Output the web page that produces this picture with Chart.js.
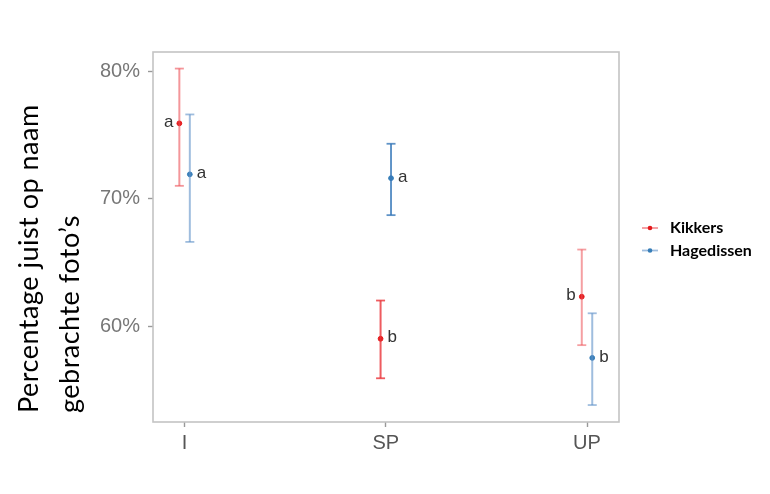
<!DOCTYPE html>
<html>
<head>
<meta charset="utf-8">
<script src="https://cdn.jsdelivr.net/npm/chart.js@4.4.1/dist/chart.umd.min.js"></script>
<style>
    html, body { margin: 0; padding: 0; background: #fff; }
    #wrap { width: 770px; height: 494px; }
</style>
</head>
<body>
<div id="wrap"><canvas id="current-chart"></canvas></div>
<script>
// data (percent)
const categories = ['I', 'SP', 'UP'];
const yTicks = [60, 70, 80];

const kikkersMean = [75.9, 59.0, 62.3];
const kikkersLow = [71.0, 55.9, 58.5];
const kikkersHigh = [80.2, 62.0, 66.0];
const kikkersLetters = ['a', 'b', 'b'];

const hagedissenMean = [71.9, 71.6, 57.5];
const hagedissenLow = [66.6, 68.7, 53.8];
const hagedissenHigh = [76.6, 74.3, 61.0];
const hagedissenLetters = ['a', 'a', 'b'];

const yTitle = ['Percentage juist op naam', 'gebrachte foto\u2019s'];

const red = '#e41a1c';
const blue = '#377eb8';
const redBar = ['rgba(236,80,86,0.6)', 'rgba(234,50,55,0.8)', 'rgba(236,80,86,0.55)'];
const blueBar = ['rgba(95,145,200,0.6)', 'rgba(55,120,185,0.8)', 'rgba(95,145,200,0.6)'];
const dodge = 0.026;

function errorBarSets(low, high, offset, colors) {
    return categories.map((c, i) => ({
        type: 'line',
        data: [{ x: i + 1 + offset, y: low[i] }, { x: i + 1 + offset, y: high[i] }],
        borderColor: colors[i],
        borderWidth: 2,
        pointStyle: 'line',
        pointRadius: 4.5,
        pointBorderColor: colors[i],
        pointBorderWidth: 1.8,
        pointHoverRadius: 0
    }));
}

const pointSets = [
    {
        label: 'Kikkers',
        type: 'scatter',
        data: kikkersMean.map((v, i) => ({ x: i + 1 - dodge, y: v })),
        backgroundColor: red,
        borderColor: red,
        pointRadius: 2.4,
        letters: kikkersLetters,
        letterSide: ['left', 'right', 'left']
    },
    {
        label: 'Hagedissen',
        type: 'scatter',
        data: hagedissenMean.map((v, i) => ({ x: i + 1 + dodge, y: v })),
        backgroundColor: blue,
        borderColor: blue,
        pointRadius: 2.4,
        letters: hagedissenLetters,
        letterSide: ['right', 'right', 'right']
    }
];

const decorations = {
    id: 'decorations',
    afterDatasetsDraw(chart) {
        const ctx = chart.ctx;
        const area = chart.chartArea;
        ctx.save();

        // panel border
        ctx.strokeStyle = '#c4c4c4';
        ctx.lineWidth = 1.6;
        ctx.strokeRect(area.left, area.top, area.right - area.left, area.bottom - area.top);

        // significance letters
        ctx.font = '17px "Liberation Sans", Arial, sans-serif';
        ctx.fillStyle = '#333333';
        ctx.textBaseline = 'middle';
        chart.data.datasets.forEach((ds, di) => {
            if (!ds.letters) return;
            const meta = chart.getDatasetMeta(di);
            meta.data.forEach((pt, i) => {
                if (ds.letterSide[i] === 'left') {
                    ctx.textAlign = 'right';
                    ctx.fillText(ds.letters[i], pt.x - 6, pt.y - 1);
                } else {
                    ctx.textAlign = 'left';
                    ctx.fillText(ds.letters[i], pt.x + 7, pt.y - 1);
                }
            });
        });

        // legend
        const legendItems = pointSets.map((d, i) => ({ text: d.label, color: d.backgroundColor, bar: i === 0 ? redBar[0] : blueBar[0] }));
        legendItems.forEach((item, i) => {
            const y = 228 + i * 22.5;
            ctx.strokeStyle = item.bar;
            ctx.lineWidth = 1.8;
            ctx.beginPath();
            ctx.moveTo(642, y);
            ctx.lineTo(658, y);
            ctx.stroke();
            ctx.fillStyle = item.color;
            ctx.beginPath();
            ctx.arc(650, y, 2.3, 0, Math.PI * 2);
            ctx.fill();
            ctx.fillStyle = '#000';
            ctx.font = 'bold 16px Lato, "Open Sans", sans-serif';
            ctx.textAlign = 'left';
            ctx.fillText(item.text, 670, y);
        });

        // y axis title
        ctx.fillStyle = '#000';
        ctx.font = '27px Lato, "Open Sans", sans-serif';
        ctx.letterSpacing = '0.5px';
        ctx.textAlign = 'left';
        ctx.textBaseline = 'alphabetic';
        const titleX = [38, 79];
        yTitle.forEach((line, i) => {
            ctx.save();
            ctx.translate(titleX[i], 413);
            ctx.rotate(-Math.PI / 2);
            ctx.fillText(line, 0, 0);
            ctx.restore();
        });

        ctx.restore();
    }
};

new Chart(document.getElementById('current-chart'), {
    data: {
        datasets: [
            ...errorBarSets(kikkersLow, kikkersHigh, -dodge, redBar),
            ...errorBarSets(hagedissenLow, hagedissenHigh, dodge, blueBar),
            ...pointSets
        ]
    },
    options: {
        responsive: true,
        maintainAspectRatio: false,
        animation: false,
        events: [],
        layout: { padding: { top: 52, right: 151, left: 0, bottom: 0 } },
        plugins: {
            legend: { display: false },
            tooltip: { enabled: false }
        },
        scales: {
            x: {
                type: 'linear',
                min: 0.843,
                max: 3.159,
                afterBuildTicks: scale => { scale.ticks = categories.map((c, i) => ({ value: i + 1 })); },
                afterFit: scale => { scale.height = 72; },
                grid: { drawOnChartArea: false, display: true, color: '#999', tickLength: 5, tickWidth: 1.4 },
                border: { display: false },
                ticks: {
                    callback: v => categories[v - 1],
                    color: '#555',
                    padding: 4,
                    maxRotation: 0,
                    font: { family: '"Liberation Sans", Arial, sans-serif', size: 20 }
                }
            },
            y: {
                min: 52.47,
                max: 81.5,
                afterBuildTicks: scale => { scale.ticks = yTicks.map(v => ({ value: v })); },
                afterFit: scale => { scale.width = 153; },
                grid: { drawOnChartArea: false, display: true, color: '#999', tickLength: 5, tickWidth: 1.4 },
                border: { display: false },
                ticks: {
                    callback: v => v + '%',
                    color: '#777',
                    padding: 8,
                    font: { family: '"Liberation Sans", Arial, sans-serif', size: 20 }
                }
            }
        }
    },
    plugins: [decorations]
});
</script>
</body>
</html>
